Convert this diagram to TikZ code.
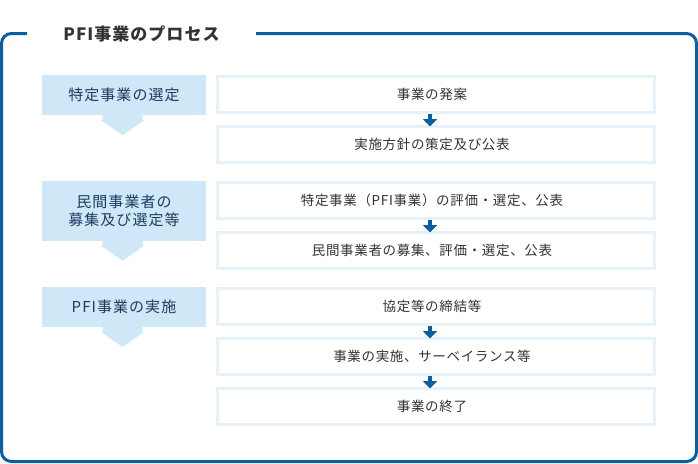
\documentclass[tikz,border=0pt]{standalone}
\usepackage{fontspec}
\setmainfont{Noto Sans CJK JP}
\newfontfamily\titlefamily[LetterSpace=6]{Noto Sans CJK JP}
\newfontfamily\stagefamily[LetterSpace=7]{Noto Sans CJK JP}
\newfontfamily\bodyfamily[LetterSpace=5]{Noto Sans CJK JP}
\usetikzlibrary{arrows.meta}
\definecolor{framecol}{HTML}{0A5FA3}
\definecolor{leftfill}{HTML}{CFE8F8}
\definecolor{boxline}{HTML}{E6F1FA}
\definecolor{lefttext}{HTML}{1E3A5C}
\definecolor{bodytext}{HTML}{333333}
\begin{document}
\begin{tikzpicture}[x=1pt,y=-1pt,
  titlestyle/.style={text=bodytext, font=\titlefamily\bfseries\fontsize{17}{20}\selectfont, inner sep=0pt},
  stage/.style={fill=leftfill, minimum width=164pt, text=lefttext, align=center, inner sep=0pt,
    font=\stagefamily\fontsize{15}{18.5}\selectfont},
  stepbox/.style={draw=boxline, line width=3pt, minimum width=437pt, minimum height=36pt,
    text=bodytext, inner sep=0pt, font=\bodyfamily\fontsize{13.5}{16}\selectfont},
  flowarrow/.style={draw=framecol, line width=4.5pt, shorten >=-1.5pt,
    -{Triangle[width=14pt,length=7.5pt]}},
  stagearrow/.style={fill=leftfill}]
\useasboundingbox (0,0) rectangle (698,463);
\draw[framecol, line width=3pt, rounded corners=10pt]
  (27,33.5) -- (1.5,33.5) -- (1.5,461.5) -- (696.5,461.5) -- (696.5,33.5) -- (256,33.5);
\node[titlestyle] (title) at (141.5,34) {PFI事業のプロセス};
% stages
\node[stage, minimum height=40pt] (s1) at (124,95) {特定事業の選定};
\node[stage, minimum height=59.5pt] (s2) at (124,210.75) {民間事業者の\\募集及び選定等};
\node[stage, minimum height=40pt] (s3) at (124,306.7) {PFI事業の実施};
\foreach \s in {s1,s2,s3}{
  \fill[stagearrow] ([xshift=-21.5pt]\s.south) -- ++(40,0) -- ++(0,5) -- ++(1.5,0)
    -- ++(-21.5,15) -- ++(-21.5,-15) -- ++(1.5,0) -- cycle;
}
% steps
\node[stepbox] (r1) at (436,94.5) {事業の発案\kern8pt};
\node[stepbox] (r2) at (436,144.5) {実施方針の策定及び公表\kern8pt};
\node[stepbox] (r3) at (436,200.5) {特定事業（PFI事業）の評価・選定、公表\kern8pt};
\node[stepbox] (r4) at (436,250.5) {民間事業者の募集、評価・選定、公表\kern8pt};
\node[stepbox] (r5) at (436,306.5) {協定等の締結等\kern8pt};
\node[stepbox] (r6) at (436,356.5) {事業の実施、サーベイランス等\kern8pt};
\node[stepbox] (r7) at (436,406.5) {事業の終了\kern8pt};
\draw[flowarrow] ([xshift=-6pt]r1.south) -- ([xshift=-6pt]r2.north);
\draw[flowarrow] ([xshift=-6pt]r3.south) -- ([xshift=-6pt]r4.north);
\draw[flowarrow] ([xshift=-6pt]r5.south) -- ([xshift=-6pt]r6.north);
\draw[flowarrow] ([xshift=-6pt]r6.south) -- ([xshift=-6pt]r7.north);
\end{tikzpicture}
\end{document}
